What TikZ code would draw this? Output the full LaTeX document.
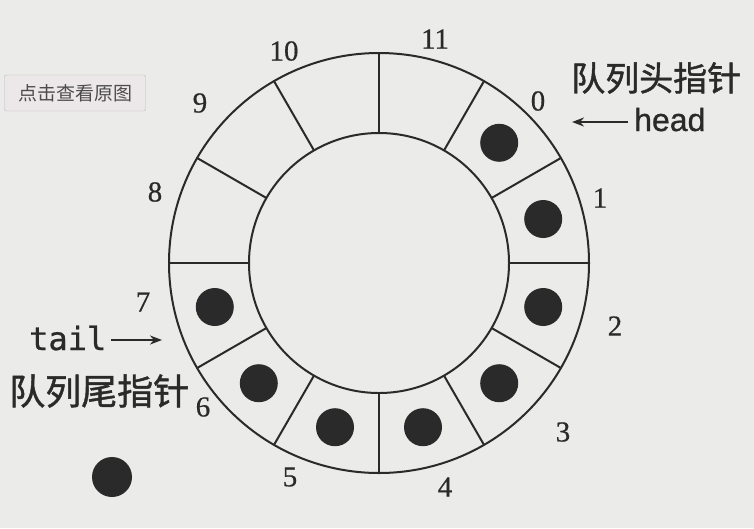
\documentclass[tikz,border=0pt]{standalone}
\usepackage{fontspec}
\setmainfont{Liberation Serif}
\newfontfamily\cjk{Noto Sans CJK SC}
\newfontfamily\cjkb[FakeBold=1.2]{Noto Sans CJK SC}
\newfontfamily\headfont[FakeBold=0.8]{Liberation Sans}
\newfontfamily\tailfont[FakeBold=0.8]{DejaVu Sans Mono}
\newfontfamily\digitfont[FakeBold=0.6]{Liberation Serif}
\usetikzlibrary{arrows.meta,calc}
\definecolor{paper}{HTML}{EBEBE9}
\definecolor{ink}{HTML}{2A2A2A}
\definecolor{btnfill}{HTML}{ECE7E9}
\tikzset{
  ringline/.style={draw=ink, line width=2pt},
  elem/.style={circle, fill=ink, minimum size=38pt, inner sep=0pt},
  idx/.style={font=\digitfont\fontsize{29}{29}\selectfont, text=ink, inner sep=0pt},
  cjklabel/.style={text=ink, inner sep=0pt},
  ptr/.style={draw=ink, line width=2pt, -{Stealth[length=12pt,width=9pt]}},
}
\begin{document}
\begin{tikzpicture}[x=1pt,y=-1pt]
\fill[paper] (0,0) rectangle (754,528);
\useasboundingbox (0,0) rectangle (754,528);
% ring
\coordinate (c) at (379,263);
\draw[ringline] (c) circle[radius=210];
\draw[ringline] (c) circle[radius=130];
\foreach \a in {0,30,...,330}
  \draw[ringline] ($(c)+(\a:130)$) -- ($(c)+(\a:210)$);
% filled elements
\foreach \a [count=\i from 0] in {45,15,-15,-45,-75,-105,-135,-165}
  \node[elem] (d\i) at ($(c)+(-\a:170)$) {};
% index labels
\node[idx] (l0) at (538,101) {0};
\node[idx] (l1) at (600,198) {1};
\node[idx] (l2) at (615,326) {2};
\node[idx] (l3) at (563,432) {3};
\node[idx] (l4) at (445,487) {4};
\node[idx] (l5) at (290,477) {5};
\node[idx] (l6) at (203,407) {6};
\node[idx] (l7) at (143,302) {7};
\node[idx] (l8) at (155,192) {8};
\node[idx] (l9) at (200,103) {9};
\node[idx] (l10) at (284,51) {10};
\node[idx] (l11) at (435,39) {11};
% head pointer
\node[cjklabel, font=\cjkb\fontsize{34}{34}\selectfont, anchor=west] (headcn) at (571,78) {队列头指针};
\node[font=\headfont\fontsize{32}{32}\selectfont, text=ink, inner sep=0pt, anchor=base west] (head) at (634,131) {head};
\coordinate (headtip) at (572,122);
\draw[ptr] (head.west |- headtip) ++(-6,0) coordinate (headstart) -- (headtip);
% tail pointer
\node[font=\tailfont\fontsize{32}{32}\selectfont, text=ink, inner sep=0pt, anchor=base west] (tail) at (29,350) {tail};
\coordinate (tailtip) at (162,340);
\draw[ptr] (tail.east |- tailtip) ++(5,0) coordinate (tailstart) -- (tailtip);
\node[cjklabel, font=\cjkb\fontsize{36}{36}\selectfont, anchor=west] (tailcn) at (9,391) {队列尾指针};
% loose dot
\node[elem, minimum size=40pt] (loose) at (112,477) {};
% overlay button
\node[draw=gray!55, fill=btnfill, rounded corners=2pt, minimum width=141pt, minimum height=36pt, inner sep=0pt,
      font=\cjk\fontsize{19}{19}\selectfont, text=black!70] (btn) at (75,93) {点击查看原图};
\end{tikzpicture}
\end{document}
